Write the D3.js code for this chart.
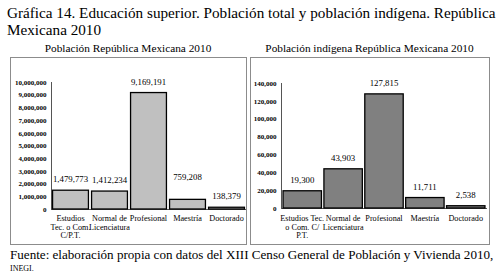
<!DOCTYPE html>
<html>
<head>
<meta charset="utf-8">
<script src="https://cdn.jsdelivr.net/npm/d3@7"></script>
<style>
  body { margin: 0; background: #fff; }
  text { font-family: "Liberation Serif", "Times New Roman", serif; fill: #000; }
</style>
</head>
<body>
<div id="chart"></div>
<script>
const categoriesTotal = [
  ["Estudios", "Tec. o Com.", "C/P.T."],
  ["Normal de", "Licenciatura"],
  ["Profesional"],
  ["Maestría"],
  ["Doctorado"]
];
const categoriesIndigena = [
  ["Estudios Tec.", "o Com. C/", "P.T."],
  ["Normal de", "Licenciatura"],
  ["Profesional"],
  ["Maestría"],
  ["Doctorado"]
];
const valuesTotal = [1479773, 1412234, 9169191, 759208, 138379];
const valuesIndigena = [19300, 43903, 127815, 11711, 2538];
const ticksTotal = [0, 1000000, 2000000, 3000000, 4000000, 5000000, 6000000, 7000000, 8000000, 9000000, 10000000];
const ticksIndigena = [0, 20000, 40000, 60000, 80000, 100000, 120000, 140000];

const width = 501;
const height = 277;
const fmt = d3.format(",");

const svg = d3
  .select("#chart")
  .append("svg")
  .attr("width", width)
  .attr("height", height);

// main title
const title = svg.append("text").attr("x", 7).style("font-size", "15.2px");
title.append("tspan").attr("x", 7).attr("y", 18).text("Gráfica 14. Educación superior. Población total y población indígena. República");
title.append("tspan").attr("x", 7).attr("y", 35).text("Mexicana 2010");

function drawPanel(opt) {
  const g = svg.append("g");

  g.append("text")
    .attr("x", (opt.boxX0 + opt.boxX1) / 2)
    .attr("y", 52)
    .attr("text-anchor", "middle")
    .style("font-size", "11.3px")
    .text(opt.title);

  g.append("rect")
    .attr("x", opt.boxX0 + 0.5)
    .attr("y", 57.5)
    .attr("width", opt.boxX1 - opt.boxX0)
    .attr("height", 187)
    .attr("fill", "none")
    .attr("stroke", "#8c8c8c")
    .attr("stroke-width", 1);

  const x = d3
    .scaleBand()
    .domain(d3.range(opt.values.length))
    .range(opt.xRange)
    .paddingInner(opt.padInner)
    .paddingOuter(opt.padOuter);

  const y = d3.scaleLinear().domain(opt.domain).range(opt.yRange);

  const yAxis = d3
    .axisLeft(y)
    .tickValues(opt.ticks)
    .tickFormat(fmt)
    .tickSize(0)
    .tickPadding(5);

  const ya = g
    .append("g")
    .attr("transform", `translate(${opt.xRange[0] + 0.5},0)`)
    .call(yAxis);
  ya.select(".domain").attr("stroke", "#555").attr("d", `M0,${opt.yRange[1]}V${opt.yRange[0] + 0.5}`);
  ya.selectAll("text")
    .style("font-family", "'Liberation Serif', serif")
    .style("font-size", "7px")
    .style("font-weight", "bold")
    .attr("fill", "#222");

  g.append("line")
    .attr("x1", opt.xRange[0])
    .attr("x2", opt.xRange[1])
    .attr("y1", opt.yRange[0] + 0.5)
    .attr("y2", opt.yRange[0] + 0.5)
    .attr("stroke", "#555");

  g.selectAll("rect.bar")
    .data(opt.values)
    .enter()
    .append("rect")
    .attr("class", "bar")
    .attr("x", (d, i) => x(i))
    .attr("y", (d) => y(d))
    .attr("width", x.bandwidth())
    .attr("height", (d) => y(0) - y(d))
    .attr("fill", opt.color)
    .attr("stroke", "#000")
    .attr("stroke-width", 1.3);

  g.selectAll("text.val")
    .data(opt.values)
    .enter()
    .append("text")
    .attr("class", "val")
    .attr("x", (d, i) => x(i) + x.bandwidth() / 2)
    .attr("y", (d, i) => y(d) - 8 - (opt.nudge[i] || 0))
    .attr("text-anchor", "middle")
    .style("font-size", "8.8px")
    .text((d) => fmt(d));

  const cat = g
    .selectAll("text.cat")
    .data(opt.categories)
    .enter()
    .append("text")
    .attr("class", "cat")
    .attr("text-anchor", "middle")
    .style("font-size", "8.2px");

  cat.each(function (lines, i) {
    const t = d3.select(this);
    lines.forEach((l, k) => {
      t.append("tspan")
        .attr("x", x(i) + x.bandwidth() / 2)
        .attr("y", 221 + k * 8.5)
        .text(l);
    });
  });
}

drawPanel({
  title: "Población República Mexicana 2010",
  boxX0: 10,
  boxX1: 246,
  xRange: [51, 246],
  yRange: [209, 82],
  domain: [0, 10000000],
  ticks: ticksTotal,
  values: valuesTotal,
  categories: categoriesTotal,
  padInner: 0.08,
  padOuter: 0.04,
  color: "#c0c0c0",
  nudge: [0, 0, 0, 11, 0]
});

drawPanel({
  title: "Población indígena República Mexicana 2010",
  boxX0: 250,
  boxX1: 489,
  xRange: [281, 487],
  yRange: [208, 83],
  domain: [0, 140000],
  ticks: ticksIndigena,
  values: valuesIndigena,
  categories: categoriesIndigena,
  padInner: 0.06,
  padOuter: 0.05,
  color: "#808080",
  nudge: [0, 0, 0, 0, 0]
});

// source note
svg.append("text")
  .attr("x", 10)
  .attr("y", 259)
  .style("font-size", "13.1px")
  .text("Fuente: elaboración propia con datos del XIII Censo General de Población y Vivienda 2010,");
svg.append("text")
  .attr("x", 10)
  .attr("y", 271)
  .style("font-size", "8px")
  .text("INEGI.");
</script>
</body>
</html>
